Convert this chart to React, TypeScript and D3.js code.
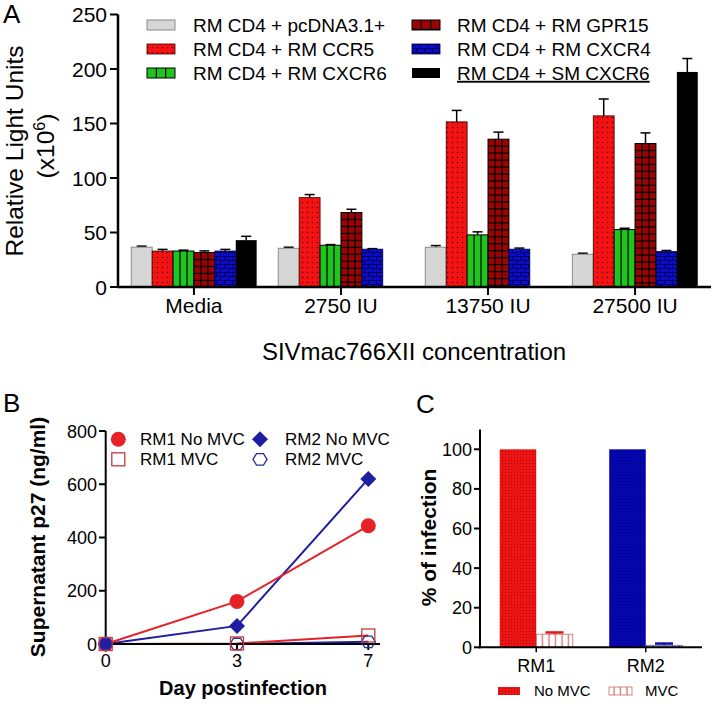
import React from 'react';
import * as d3 from 'd3';

const FONT = "'Liberation Sans', Arial, Helvetica, sans-serif";

// ---------- Panel A data ----------
const doseCategories = ['Media', '2750 IU', '13750 IU', '27500 IU'];
const seriesKeys = ['pcdna', 'ccr5', 'cxcr6', 'gpr15', 'cxcr4', 'smcxcr6'];
const seriesLabels = [
  'RM CD4 + pcDNA3.1+',
  'RM CD4 + RM CCR5',
  'RM CD4 + RM CXCR6',
  'RM CD4 + RM GPR15',
  'RM CD4 + RM CXCR4',
  'RM CD4 + SM CXCR6',
];
const pcdnaValues = [36.5, 35.5, 36.5, 30];
const pcdnaErr = [1, 1, 1.5, 1];
const ccr5Values = [33, 82, 151.5, 157];
const ccr5Err = [1.5, 2.8, 10.5, 15.5];
const cxcr6Values = [33, 38.3, 47.8, 52.7];
const cxcr6Err = [0.8, 0.6, 2.8, 1.2];
const gpr15Values = [31.6, 68.3, 135.6, 131.6];
const gpr15Err = [1.5, 3, 6.5, 9.8];
const cxcr4Values = [33, 34.7, 34.7, 32.5];
const cxcr4Err = [1.5, 0.5, 1, 1];
const smCxcr6Values: (number | null)[] = [43, null, null, 197.3];
const smCxcr6Err = [3.5, 0, 0, 12.3];
const yTicksA = [0, 50, 100, 150, 200, 250];

// ---------- Panel B data ----------
const days = ['0', '3', '7'];
const rm1NoMvc = [0, 160, 444];
const rm2NoMvc = [0, 68, 620];
const rm1Mvc = [0, 2, 32];
const rm2Mvc = [0, 0, 8];
const yTicksB = [0, 200, 400, 600, 800];

// ---------- Panel C data ----------
const animals = ['RM1', 'RM2'];
const noMvcPct = [100, 100];
const mvcPct = [6.6, 1.0];
const mvcErr = [0.9, 0.9];
const yTicksC = [0, 20, 40, 60, 80, 100];

const A_VALUES = [pcdnaValues, ccr5Values, cxcr6Values, gpr15Values, cxcr4Values, smCxcr6Values];
const A_ERRS = [pcdnaErr, ccr5Err, cxcr6Err, gpr15Err, cxcr4Err, smCxcr6Err];

const RED = '#f41212';
const GREEN = '#1fc41f';
const DARKRED = '#9c0303';
const BLUE = '#0a0ad0';
const GRAY = '#d6d6d6';

function BarFill({ k, x, y, w, h }: { k: string; x: number; y: number; w: number; h: number }) {
  if (h <= 0) return null;
  if (k === 'pcdna') {
    return <rect x={x} y={y} width={w} height={h} fill={GRAY} stroke="#8a8a8a" strokeWidth={1} />;
  }
  if (k === 'ccr5') {
    return <rect x={x} y={y} width={w} height={h} fill="url(#dotsRed)" stroke="#3a0000" strokeWidth={0.8} />;
  }
  if (k === 'cxcr4') {
    return <rect x={x} y={y} width={w} height={h} fill="url(#bricks)" stroke="#000040" strokeWidth={0.8} />;
  }
  if (k === 'smcxcr6') {
    return <rect x={x} y={y} width={w} height={h} fill="#000" />;
  }
  if (k === 'cxcr6') {
    const lines = [1, 2].map((i) => x + (w * i) / 3);
    return (
      <g>
        <rect x={x} y={y} width={w} height={h} fill={GREEN} stroke="#000" strokeWidth={1} />
        {lines.map((lx, i) => (
          <line key={i} x1={lx} x2={lx} y1={y} y2={y + h} stroke="#000" strokeWidth={1.2} />
        ))}
      </g>
    );
  }
  // gpr15 grid
  const cell = w / 3;
  const vlines = [1, 2].map((i) => x + cell * i);
  const hlines = d3.range(y + cell, y + h, cell);
  return (
    <g>
      <rect x={x} y={y} width={w} height={h} fill={DARKRED} stroke="#000" strokeWidth={1} />
      {vlines.map((lx, i) => (
        <line key={'v' + i} x1={lx} x2={lx} y1={y} y2={y + h} stroke="#000" strokeWidth={1.2} />
      ))}
      {hlines.map((ly, i) => (
        <line key={'h' + i} x1={x} x2={x + w} y1={ly} y2={ly} stroke="#000" strokeWidth={1.2} />
      ))}
    </g>
  );
}

function PanelA() {
  const x = d3.scaleBand().domain(doseCategories).range([118, 711]).paddingInner(0.147).paddingOuter(0.09);
  const slot = d3.scaleBand().domain(seriesKeys).range([0, x.bandwidth()]);
  const y = d3.scaleLinear().domain([0, 250]).range([287, 14.5]);
  const bw = slot.bandwidth();

  const legendCols = [
    { sx: 147, tx: 193 },
    { sx: 412, tx: 457 },
  ];
  const legendRows = [25, 49, 73];

  return (
    <g>
      <text x={3} y={23} fontSize={26} fontFamily={FONT}>A</text>
      {/* y label */}
      <text transform={`translate(23,151) rotate(-90)`} textAnchor="middle" fontSize={24.5} fontFamily={FONT}>
        Relative Light Units
      </text>
      <text transform={`translate(54,146) rotate(-90)`} textAnchor="middle" fontSize={24.5} fontFamily={FONT}>
        (x10<tspan dy={-9} fontSize={16}>6</tspan><tspan dy={9}>)</tspan>
      </text>

      {/* bars */}
      {doseCategories.map((c, ci) => (
        <g key={c}>
          {seriesKeys.map((k, si) => {
            const v = A_VALUES[si][ci];
            if (v == null) return null;
            const bx = (x(c) as number) + (slot(k) as number);
            const top = y(v);
            const errTop = y(v + A_ERRS[si][ci]);
            const cx = bx + bw / 2;
            return (
              <g key={k}>
                <line x1={cx} x2={cx} y1={top} y2={errTop} stroke="#000" strokeWidth={1.5} />
                <line x1={cx - 5} x2={cx + 5} y1={errTop} y2={errTop} stroke="#000" strokeWidth={1.5} />
                <BarFill k={k} x={bx} y={top} w={bw} h={y(0) - top} />
              </g>
            );
          })}
        </g>
      ))}

      {/* axes */}
      <line x1={118} x2={118} y1={y(250)} y2={y(0) + 1} stroke="#000" strokeWidth={2.5} />
      <line x1={117} x2={711} y1={y(0)} y2={y(0)} stroke="#000" strokeWidth={2.5} />
      {yTicksA.map((t) => (
        <g key={t}>
          <line x1={110} x2={118} y1={y(t)} y2={y(t)} stroke="#000" strokeWidth={2} />
          <text x={107} y={y(t) + 7.5} textAnchor="end" fontSize={21} fontFamily={FONT}>{t}</text>
        </g>
      ))}
      {doseCategories.map((c) => {
        const cx = (x(c) as number) + x.bandwidth() / 2;
        return (
          <g key={c}>
            <line x1={cx} x2={cx} y1={y(0)} y2={y(0) + 8} stroke="#000" strokeWidth={2} />
            <text x={cx} y={313} textAnchor="middle" fontSize={21} fontFamily={FONT}>{c}</text>
          </g>
        );
      })}
      <text x={414} y={360} textAnchor="middle" fontSize={24} fontFamily={FONT}>SIVmac766XII concentration</text>

      {/* legend */}
      {seriesKeys.map((k, i) => {
        const col = legendCols[i < 3 ? 0 : 1];
        const cy = legendRows[i % 3];
        return (
          <g key={k}>
            <BarFill k={k} x={col.sx} y={cy - 5} w={28} h={10} />
            <text x={col.tx} y={cy + 6.8} fontSize={19} fontFamily={FONT} textDecoration={k === 'smcxcr6' ? 'underline' : undefined}>
              {seriesLabels[i]}
            </text>
          </g>
        );
      })}
    </g>
  );
}

function hexPath(cx: number, cy: number, r: number) {
  const pts = d3.range(6).map((i) => {
    const a = (Math.PI / 3) * i;
    return [cx + r * Math.cos(a), cy + r * Math.sin(a) * 0.95];
  });
  return 'M' + pts.map((p) => p.join(',')).join('L') + 'Z';
}

function PanelB() {
  const x = d3.scalePoint().domain(days).range([105.7, 368.3]);
  const y = d3.scaleLinear().domain([0, 800]).range([644, 431]);
  const line = d3.line<number>().x((_, i) => x(days[i]) as number).y((d) => y(d));
  const RED_B = '#e42228';
  const BLUE_B = '#1e1ea0';
  const SQ = '#c23b3b';
  const HEX = '#2b2b9e';

  const diamond = (cx: number, cy: number, r: number) => `M${cx},${cy - r}L${cx + r},${cy}L${cx},${cy + r}L${cx - r},${cy}Z`;

  return (
    <g>
      <text x={3} y={412} fontSize={26} fontFamily={FONT}>B</text>
      <text transform={`translate(45,537) rotate(-90)`} textAnchor="middle" fontSize={21} fontWeight="bold" fontFamily={FONT}>
        Supernatant p27 (ng/ml)
      </text>
      <text x={243} y={695} textAnchor="middle" fontSize={20} fontWeight="bold" fontFamily={FONT}>Day postinfection</text>

      {/* lines */}
      <path d={line(rm2Mvc) || ''} fill="none" stroke={BLUE_B} strokeWidth={2} />
      <path d={line(rm1Mvc) || ''} fill="none" stroke={RED_B} strokeWidth={2} />
      <path d={line(rm2NoMvc) || ''} fill="none" stroke={BLUE_B} strokeWidth={2} />
      <path d={line(rm1NoMvc) || ''} fill="none" stroke={RED_B} strokeWidth={2} />

      {/* axes */}
      <line x1={105.7} x2={105.7} y1={431} y2={645} stroke="#000" strokeWidth={2} />
      <line x1={104.7} x2={380} y1={y(0)} y2={y(0)} stroke="#000" strokeWidth={2} />
      {yTicksB.map((t) => (
        <g key={t}>
          <line x1={99} x2={105.7} y1={y(t)} y2={y(t)} stroke="#000" strokeWidth={2} />
          <text x={97} y={y(t) + 6.5} textAnchor="end" fontSize={18} fontFamily={FONT}>{t}</text>
        </g>
      ))}
      {days.map((d) => (
        <g key={d}>
          <line x1={x(d)} x2={x(d)} y1={y(0)} y2={y(0) + 6} stroke="#000" strokeWidth={2} />
          <text x={x(d)} y={667} textAnchor="middle" fontSize={18} fontFamily={FONT}>{d}</text>
        </g>
      ))}

      {/* markers */}
      {rm1NoMvc.map((v, i) => (
        <circle key={'c' + i} cx={x(days[i])} cy={y(v)} r={7.5} fill={RED_B} />
      ))}
      {rm2NoMvc.map((v, i) => (
        <path key={'d' + i} d={diamond(x(days[i]) as number, y(v), 8)} fill={BLUE_B} />
      ))}
      {rm2Mvc.map((v, i) => (
        <path key={'h' + i} d={hexPath(x(days[i]) as number, y(v), 7)} fill="none" stroke={HEX} strokeWidth={1.3} />
      ))}
      {rm1Mvc.map((v, i) => (
        <rect key={'s' + i} x={(x(days[i]) as number) - 6.5} y={y(v) - 6.5} width={13} height={13} fill="none" stroke={SQ} strokeWidth={1.3} />
      ))}

      {/* legend */}
      <circle cx={118.3} cy={439.3} r={7.5} fill={RED_B} />
      <text x={140} y={445.3} fontSize={17} fontFamily={FONT}>RM1 No MVC</text>
      <path d={diamond(260, 439.3, 8)} fill={BLUE_B} />
      <text x={285} y={445.3} fontSize={17} fontFamily={FONT}>RM2 No MVC</text>
      <rect x={111.8} y={452.8} width={13} height={13} fill="none" stroke={SQ} strokeWidth={1.3} />
      <text x={140} y={465.3} fontSize={17} fontFamily={FONT}>RM1 MVC</text>
      <path d={hexPath(260, 459.3, 7)} fill="none" stroke={HEX} strokeWidth={1.3} />
      <text x={285} y={465.3} fontSize={17} fontFamily={FONT}>RM2 MVC</text>
    </g>
  );
}

function PanelC() {
  const x = d3.scaleBand().domain(animals).range([480, 702]).paddingInner(0.333).paddingOuter(0.18);
  const sub = d3.scaleBand().domain(['no', 'mvc']).range([0, x.bandwidth()]);
  const y = d3.scaleLinear().domain([0, 110]).range([647.3, 429.5]);
  const sw = sub.bandwidth();
  const fills = ['url(#dotsRedC)', 'url(#dotsBlueC)'];
  const hatch = ['url(#hatchRed)', 'url(#hatchBlue)'];
  const mvcStroke = ['#c86a6a', '#5a5ab0'];
  const capColor = ['#e01818', '#1010a0'];

  return (
    <g>
      <text x={416} y={413} fontSize={26} fontFamily={FONT}>C</text>
      <text transform={`translate(436,537.5) rotate(-90)`} textAnchor="middle" fontSize={21} fontWeight="bold" fontFamily={FONT}>
        % of infection
      </text>

      {animals.map((a, i) => {
        const bx = x(a) as number;
        const mx = bx + (sub('mvc') as number);
        const mTop = y(mvcPct[i]);
        const eTop = y(mvcPct[i] + mvcErr[i]);
        return (
          <g key={a}>
            <rect x={bx} y={y(noMvcPct[i])} width={sw} height={y(0) - y(noMvcPct[i])} fill={fills[i]} />
            <rect x={mx} y={mTop} width={sw} height={y(0) - mTop} fill={hatch[i]} stroke={mvcStroke[i]} strokeWidth={0.8} />
            <line x1={mx + sw / 2} x2={mx + sw / 2} y1={mTop} y2={eTop} stroke={capColor[i]} strokeWidth={1.5} />
            <line x1={mx + sw / 2 - 9} x2={mx + sw / 2 + 9} y1={eTop} y2={eTop} stroke={capColor[i]} strokeWidth={2.5} />
          </g>
        );
      })}

      {/* axes */}
      <line x1={480} x2={480} y1={y(110)} y2={y(0) + 1} stroke="#000" strokeWidth={2} />
      <line x1={479} x2={702} y1={y(0)} y2={y(0)} stroke="#000" strokeWidth={2} />
      {yTicksC.map((t) => (
        <g key={t}>
          <line x1={474} x2={480} y1={y(t)} y2={y(t)} stroke="#000" strokeWidth={2} />
          <text x={472} y={y(t) + 6.5} textAnchor="end" fontSize={18} fontFamily={FONT}>{t}</text>
        </g>
      ))}
      {animals.map((a) => {
        const cx = (x(a) as number) + x.bandwidth() / 2;
        return (
          <g key={a}>
            <line x1={cx} x2={cx} y1={y(0)} y2={y(0) + 5} stroke="#000" strokeWidth={1.5} />
            <text x={cx} y={672} textAnchor="middle" fontSize={18} fontFamily={FONT}>{a}</text>
          </g>
        );
      })}

      {/* legend */}
      <rect x={498} y={687} width={22} height={8} fill="url(#dotsRedC)" />
      <text x={534} y={695.5} fontSize={15} fontFamily={FONT}>No MVC</text>
      <rect x={609} y={687} width={23} height={8} fill="url(#hatchRed)" stroke="#c86a6a" strokeWidth={0.8} />
      <text x={645} y={695.5} fontSize={15} fontFamily={FONT}>MVC</text>
    </g>
  );
}

export default function App() {
  return (
    <svg
      width={714}
      height={704}
      viewBox="0 0 714 704"
      style={{ position: 'absolute', left: 0, top: 0, background: '#fff' }}
    >
      <defs>
        <pattern id="dotsRed" width={5} height={5} patternUnits="userSpaceOnUse">
          <rect width={5} height={5} fill={RED} />
          <circle cx={2.5} cy={2.5} r={0.75} fill="#5a0000" />
        </pattern>
        <pattern id="bricks" width={8} height={8} patternUnits="userSpaceOnUse">
          <rect width={8} height={8} fill={BLUE} />
          <line x1={0} x2={8} y1={0.5} y2={0.5} stroke="#000050" strokeWidth={1} />
          <line x1={0} x2={8} y1={4.5} y2={4.5} stroke="#000050" strokeWidth={1} />
          <line x1={0.5} x2={0.5} y1={0} y2={4.5} stroke="#000050" strokeWidth={1} />
          <line x1={4.5} x2={4.5} y1={4.5} y2={8} stroke="#000050" strokeWidth={1} />
        </pattern>
        <pattern id="dotsRedC" width={3} height={3} patternUnits="userSpaceOnUse">
          <rect width={3} height={3} fill="#ee1414" />
          <circle cx={1.5} cy={1.5} r={0.55} fill="#a00000" />
        </pattern>
        <pattern id="dotsBlueC" width={3} height={3} patternUnits="userSpaceOnUse">
          <rect width={3} height={3} fill="#0606b0" />
          <circle cx={1.5} cy={1.5} r={0.55} fill="#000068" />
        </pattern>
        <pattern id="hatchRed" width={6.5} height={6} patternUnits="userSpaceOnUse">
          <rect width={6.5} height={6} fill="#fff" />
          <line x1={3} x2={3} y1={0} y2={6} stroke="#c86a6a" strokeWidth={1.2} />
        </pattern>
        <pattern id="hatchBlue" width={6.5} height={6} patternUnits="userSpaceOnUse">
          <rect width={6.5} height={6} fill="#dde" />
          <line x1={3} x2={3} y1={0} y2={6} stroke="#3a3aa8" strokeWidth={1.2} />
        </pattern>
      </defs>
      <rect width={714} height={704} fill="#fff" />
      <PanelA />
      <PanelB />
      <PanelC />
    </svg>
  );
}
